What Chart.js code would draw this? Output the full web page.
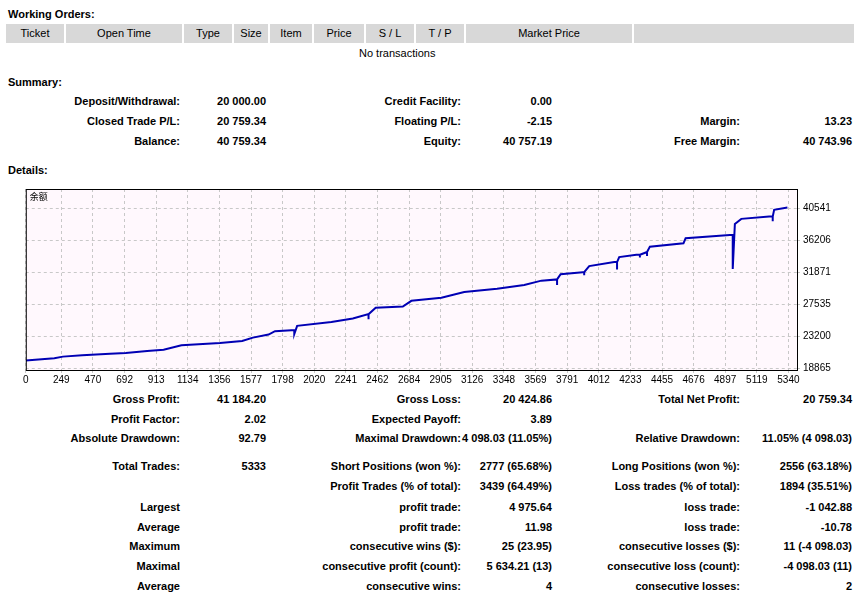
<!DOCTYPE html>
<html>
<head>
<meta charset="utf-8">
<script src="https://cdn.jsdelivr.net/npm/chart.js@4.4.1/dist/chart.umd.min.js"></script>
<style>
  body { margin: 0; background: #fff; font-family: "Liberation Sans", Arial, sans-serif; font-size: 11px; color: #000; }
  .t { position: absolute; white-space: nowrap; font-weight: bold; line-height: 14px; }
  .r { text-align: right; }
  .hdr { position: absolute; top: 24px; height: 19px; background: #d8d8d8; line-height: 19px; text-align: center; font-weight: normal; }
  #wrap { position: absolute; left: 22px; top: 180px; width: 844px; height: 208px; }
</style>
</head>
<body>
<div id="page"></div>
<div id="wrap"><canvas id="c"></canvas></div>
<script>
// ===============================
// Balance curve
// ===============================
const balanceX = [0, 200, 260, 395, 590, 700, 850, 965, 1090, 1360, 1515, 1590, 1700, 1745, 1860, 1880, 1880, 1900,
  2140, 2290, 2400, 2400, 2400, 2450, 2640, 2700, 2910, 3070, 3300, 3490, 3610, 3720, 3720, 3720, 3745, 3900, 3910, 3910, 3910,
  3945, 4120, 4140, 4140, 4140, 4155, 4275, 4300, 4300, 4300, 4350, 4350, 4350, 4370, 4605, 4620, 4930, 4950, 4950, 4965,
  5010, 5205, 5230, 5230, 5230, 5240, 5333];
const balanceY = [19910, 20230, 20450, 20620, 20830, 20930, 21210, 21390, 21980, 22300, 22570, 23020, 23430, 23890, 24020, 24020, 23500, 24610,
  25150, 25610, 26200, 25500, 26200, 27050, 27230, 28000, 28420, 29180, 29640, 30140, 30730, 30900, 30150, 30900, 31610, 31880, 31880, 31470, 31880,
  32700, 33240, 33240, 32230, 33240, 33920, 34230, 34230, 33870, 34230, 34600, 34050, 34600, 35330, 35780, 36460, 36910, 36910, 32300, 38410,
  39090, 39410, 39410, 38750, 39410, 40310, 40630];
const xTicks = [0, 249, 470, 692, 913, 1134, 1356, 1577, 1798, 2020, 2241, 2462, 2684, 2905, 3126, 3348, 3569, 3791, 4012, 4233, 4455, 4676, 4897, 5119, 5340];
const yTicks = [18865, 23200, 27535, 31871, 36206, 40541];

// ===============================
// Report text
// ===============================
const orderCols = [['Ticket', 6, 58], ['Open Time', 66, 116], ['Type', 184, 48], ['Size', 234, 34], ['Item', 270, 42],
  ['Price', 314, 50], ['S / L', 366, 48], ['T / P', 416, 48], ['Market Price', 466, 166], ['', 634, 220]];
const summaryRows = [
  [101, 'Deposit/Withdrawal:', '20 000.00', 'Credit Facility:', '0.00', '', ''],
  [121, 'Closed Trade P/L:', '20 759.34', 'Floating P/L:', '-2.15', 'Margin:', '13.23'],
  [141, 'Balance:', '40 759.34', 'Equity:', '40 757.19', 'Free Margin:', '40 743.96']
];
const statRows = [
  [399, 'Gross Profit:', '41 184.20', 'Gross Loss:', '20 424.86', 'Total Net Profit:', '20 759.34'],
  [419, 'Profit Factor:', '2.02', 'Expected Payoff:', '3.89', '', ''],
  [438, 'Absolute Drawdown:', '92.79', 'Maximal Drawdown:', '4 098.03 (11.05%)', 'Relative Drawdown:', '11.05% (4 098.03)'],
  [466, 'Total Trades:', '5333', 'Short Positions (won %):', '2777 (65.68%)', 'Long Positions (won %):', '2556 (63.18%)'],
  [486, '', '', 'Profit Trades (% of total):', '3439 (64.49%)', 'Loss trades (% of total):', '1894 (35.51%)'],
  [507, 'Largest', '', 'profit trade:', '4 975.64', 'loss trade:', '-1 042.88'],
  [527, 'Average', '', 'profit trade:', '11.98', 'loss trade:', '-10.78'],
  [546, 'Maximum', '', 'consecutive wins ($):', '25 (23.95)', 'consecutive losses ($):', '11 (-4 098.03)'],
  [566, 'Maximal', '', 'consecutive profit (count):', '5 634.21 (13)', 'consecutive loss (count):', '-4 098.03 (11)'],
  [586, 'Average', '', 'consecutive wins:', '4', 'consecutive losses:', '2']
];
const colRight = [180, 266, 461, 552, 740, 852];

const page = document.getElementById('page');
function put(text, x, y, right, extra) {
  const d = document.createElement('div');
  d.className = 't' + (right ? ' r' : '');
  d.textContent = text;
  d.style.top = (y - 7) + 'px';
  if (right) { d.style.right = (866 - x) + 'px'; } else { d.style.left = x + 'px'; }
  if (extra) Object.assign(d.style, extra);
  page.appendChild(d);
}
put('Working Orders:', 8, 14);
orderCols.forEach(c => {
  const d = document.createElement('div');
  d.className = 'hdr';
  d.textContent = c[0];
  d.style.left = c[1] + 'px';
  d.style.width = c[2] + 'px';
  page.appendChild(d);
});
put('No transactions', 359, 53, false, { fontWeight: 'normal' });
put('Summary:', 8, 82);
put('Details:', 8, 170);
summaryRows.concat(statRows).forEach(r => {
  for (let i = 0; i < 6; i++) if (r[i + 1]) put(r[i + 1], colRight[i], r[0], true);
});

// ===============================
// Chart
// ===============================
const frame = {
  id: 'frame',
  beforeDraw(chart) {
    const a = chart.chartArea, ctx = chart.ctx;
    ctx.save();
    ctx.fillStyle = '#fff8fd';
    ctx.fillRect(a.left, a.top, a.right - a.left, a.bottom - a.top);
    ctx.restore();
  },
  afterDraw(chart) {
    const a = chart.chartArea, ctx = chart.ctx;
    ctx.save();
    ctx.strokeStyle = '#000';
    ctx.lineWidth = 1;
    ctx.strokeRect(a.left + 0.5, a.top + 0.5, a.right - a.left, a.bottom - a.top);
    ctx.fillStyle = '#000';
    ctx.font = '9px "Noto Sans CJK SC"';
    ctx.fillText('余额', a.left + 4, a.top + 11);
    ctx.restore();
  }
};

new Chart(document.getElementById('c'), {
  type: 'scatter',
  data: {
    datasets: [{
      data: balanceX.map((x, i) => ({ x: x, y: balanceY[i] })),
      showLine: true,
      borderColor: '#0000b4',
      borderWidth: 2,
      pointRadius: 0,
      tension: 0
    }]
  },
  options: {
    responsive: true,
    maintainAspectRatio: false,
    animation: false,
    layout: { padding: { left: 2, right: 14, top: 0, bottom: 0 } },
    plugins: { legend: { display: false }, tooltip: { enabled: false } },
    scales: {
      x: {
        type: 'linear', min: 0, max: 5400,
        afterBuildTicks: s => { s.ticks = xTicks.map(v => ({ value: v })); },
        afterFit: s => { s.height = 18; },
        grid: { color: '#c8c8c8', tickLength: 3, drawTicks: true },
        border: { dash: [3, 3], display: false },
        ticks: { color: '#000', font: { family: 'Liberation Sans', size: 10 }, maxRotation: 0, autoSkip: false, padding: 1, callback: v => String(v) }
      },
      y: {
        position: 'right', min: 18640, max: 43130,
        afterBuildTicks: s => { s.ticks = yTicks.map(v => ({ value: v })); },
        afterFit: s => { s.width = 55; },
        grid: { color: '#c8c8c8', tickLength: 3 },
        border: { dash: [3, 3], display: false },
        ticks: { color: '#000', font: { family: 'Liberation Sans', size: 10 }, padding: 3, callback: v => String(v) }
      }
    }
  },
  plugins: [frame]
});
</script>
</body>
</html>
